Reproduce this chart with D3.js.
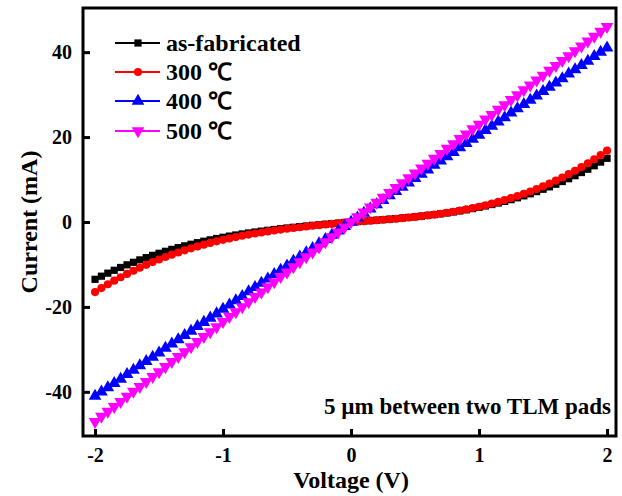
<!DOCTYPE html>
<html>
<head>
<meta charset="utf-8">
<script src="https://cdn.jsdelivr.net/npm/d3@7/dist/d3.min.js"></script>
<style>
  body { margin: 0; background: #fff; }
  svg { display: block; }
  text { font-family: "Liberation Serif", "Times New Roman", serif; font-weight: bold; fill: #000; }
</style>
</head>
<body>
<svg id="chart"></svg>
<script>
// voltage points, -2 .. 2 V in 0.05 V steps
var voltage = d3.range(81).map(function(i){ return Math.round((-2 + i * 0.05) * 100) / 100; });

// current (mA)
var asFabricated = [
  -13.50, -12.76, -12.05, -11.37, -10.71, -10.09, -9.49, -8.92, -8.38, -7.86,
  -7.37, -6.90, -6.45, -6.03, -5.62, -5.24, -4.87, -4.53, -4.20, -3.89,
  -3.60, -3.32, -3.06, -2.81, -2.58, -2.36, -2.15, -1.95, -1.76, -1.58,
  -1.41, -1.24, -1.09, -0.94, -0.79, -0.65, -0.52, -0.39, -0.26, -0.13,
  0,
  0.11, 0.21, 0.32, 0.43, 0.55, 0.67, 0.79, 0.93, 1.07, 1.22,
  1.38, 1.55, 1.74, 1.93, 2.14, 2.37, 2.61, 2.87, 3.15, 3.45,
  3.77, 4.11, 4.47, 4.85, 5.26, 5.70, 6.16, 6.64, 7.16, 7.71,
  8.28, 8.89, 9.53, 10.20, 10.91, 11.65, 12.43, 13.25, 14.11, 15.00
];
var c300 = [
  -16.50, -15.57, -14.67, -13.82, -13.00, -12.22, -11.48, -10.77, -10.09, -9.44,
  -8.83, -8.25, -7.69, -7.17, -6.67, -6.20, -5.75, -5.33, -4.93, -4.56,
  -4.20, -3.86, -3.55, -3.25, -2.97, -2.71, -2.46, -2.22, -2.00, -1.79,
  -1.59, -1.41, -1.23, -1.06, -0.89, -0.73, -0.58, -0.43, -0.29, -0.14,
  0,
  0.10, 0.20, 0.31, 0.41, 0.53, 0.64, 0.77, 0.90, 1.05, 1.20,
  1.37, 1.55, 1.74, 1.95, 2.18, 2.42, 2.68, 2.97, 3.27, 3.60,
  3.95, 4.33, 4.73, 5.16, 5.63, 6.12, 6.64, 7.19, 7.78, 8.40,
  9.06, 9.75, 10.49, 11.26, 12.08, 12.93, 13.83, 14.77, 15.76, 16.80
];
var c400 = [
  -41.0, -40.0, -39.0, -38.0, -37.0, -35.9, -34.9, -33.8, -32.8, -31.8,
  -30.8, -29.7, -28.7, -27.7, -26.7, -25.7, -24.6, -23.6, -22.6, -21.6,
  -20.5, -19.5, -18.5, -17.5, -16.4, -15.4, -14.4, -13.4, -12.3, -11.3,
  -10.3, -9.2, -8.2, -7.2, -6.2, -5.1, -4.1, -3.1, -2.1, -1.0,
  0,
  1.0, 2.1, 3.1, 4.1, 5.1, 6.2, 7.2, 8.2, 9.2, 10.3,
  11.3, 12.3, 13.4, 14.4, 15.4, 16.4, 17.5, 18.5, 19.5, 20.5,
  21.6, 22.6, 23.6, 24.6, 25.7, 26.7, 27.7, 28.7, 29.7, 30.8,
  31.8, 32.8, 33.8, 34.9, 35.9, 36.9, 37.9, 39.0, 40.0, 41.0
];
var c500 = [
  -47.0, -45.8, -44.6, -43.5, -42.3, -41.1, -39.9, -38.8, -37.6, -36.4,
  -35.3, -34.1, -32.9, -31.7, -30.6, -29.4, -28.2, -27.0, -25.9, -24.7,
  -23.5, -22.3, -21.2, -20.0, -18.8, -17.6, -16.5, -15.3, -14.1, -12.9,
  -11.8, -10.6, -9.4, -8.2, -7.1, -5.9, -4.7, -3.5, -2.4, -1.2,
  0,
  1.2, 2.3, 3.5, 4.6, 5.8, 6.9, 8.1, 9.2, 10.4, 11.5,
  12.7, 13.8, 15.0, 16.1, 17.3, 18.4, 19.6, 20.7, 21.9, 23.0,
  24.2, 25.3, 26.5, 27.6, 28.8, 29.9, 31.1, 32.2, 33.4, 34.5,
  35.7, 36.8, 38.0, 39.1, 40.3, 41.4, 42.6, 43.7, 44.9, 46.0
];

var seriesNames = ["as-fabricated", "300 \u2103", "400 \u2103", "500 \u2103"];
var seriesValues = [asFabricated, c300, c400, c500];
var seriesColors = ["#000000", "#ff0000", "#0000ff", "#ff00ff"];
var seriesSymbols = [d3.symbolSquare, d3.symbolCircle, d3.symbolTriangle, d3.symbolTriangle];
var xTicks = [-2, -1, 0, 1, 2];
var yTicks = [-40, -20, 0, 20, 40];
var note = "5 \u00b5m between two TLM pads";

var screen = { width: 622, height: 496 };
var margins = { top: 8, bottom: 60, left: 83, right: 6 };
var width = screen.width - margins.left - margins.right;
var height = screen.height - margins.top - margins.bottom;

var svg = d3.select('#chart')
  .attr('width', screen.width)
  .attr('height', screen.height);

var xScale = d3.scaleLinear().domain([-2.094, 2.07]).range([0, width]);
var yScale = d3.scaleLinear().domain([-50.4, 50.4]).range([height, 0]);

var plot = svg.append('g')
  .attr('transform', 'translate(' + margins.left + ',' + margins.top + ')');

// data
var line = d3.line()
  .x(function(d, i){ return xScale(voltage[i]); })
  .y(function(d){ return yScale(d); });

var symSizes = [52, 52, 70, 70];

seriesValues.forEach(function(vals, s) {
  var g = plot.append('g');
  g.append('path')
    .datum(vals)
    .attr('d', line)
    .attr('fill', 'none')
    .attr('stroke', seriesColors[s])
    .attr('stroke-width', 2);
  g.selectAll('path.pt')
    .data(vals)
    .enter().append('path')
    .attr('class', 'pt')
    .attr('d', d3.symbol().type(seriesSymbols[s]).size(symSizes[s]))
    .attr('transform', function(d, i) {
      return 'translate(' + xScale(voltage[i]) + ',' + yScale(d) + ')' + (s == 3 ? ' rotate(180)' : '');
    })
    .attr('fill', seriesColors[s]);
});

// axes
var xAxis = d3.axisBottom(xScale).tickValues(xTicks).tickSize(-7).tickPadding(12)
  .tickFormat(function(d){ return d3.format('d')(d).replace('\u2212', '-'); });
var gx = plot.append('g')
  .attr('transform', 'translate(0,' + height + ')')
  .call(xAxis);
var yAxis = d3.axisLeft(yScale).tickValues(yTicks).tickSize(-7).tickPadding(11)
  .tickFormat(function(d){ return d3.format('d')(d).replace('\u2212', '-'); });
var gy = plot.append('g').call(yAxis);

[gx, gy].forEach(function(g) {
  g.select('.domain').remove();
  g.selectAll('.tick line').attr('stroke', '#000').attr('stroke-width', 3);
  g.selectAll('.tick text').style('font-size', '20px').attr('fill', '#000');
});

// frame
plot.append('rect')
  .attr('x', 0).attr('y', 0)
  .attr('width', width).attr('height', height)
  .attr('fill', 'none')
  .attr('stroke', '#000')
  .attr('stroke-width', 3);

// axis titles
svg.append('text')
  .attr('x', margins.left + xScale(0))
  .attr('y', 488)
  .attr('text-anchor', 'middle')
  .style('font-size', '24px')
  .text('Voltage (V)');
svg.append('text')
  .attr('transform', 'translate(37,' + (margins.top + yScale(0)) + ') rotate(-90)')
  .attr('text-anchor', 'middle')
  .style('font-size', '24px')
  .text('Current (mA)');

// legend
var legendY = [43, 72, 101, 131];
var legend = svg.append('g');
seriesNames.forEach(function(name, s) {
  var y = legendY[s];
  legend.append('line')
    .attr('x1', 115).attr('x2', 160)
    .attr('y1', y).attr('y2', y)
    .attr('stroke', seriesColors[s]).attr('stroke-width', 2);
  legend.append('path')
    .attr('d', d3.symbol().type(seriesSymbols[s]).size(symSizes[s]))
    .attr('transform', 'translate(138,' + y + ')' + (s == 3 ? ' rotate(180)' : ''))
    .attr('fill', seriesColors[s]);
  legend.append('text')
    .attr('x', 166).attr('y', y + 8)
    .style('font-size', '24px')
    .text(name);
});

// note
svg.append('text')
  .attr('x', 611).attr('y', 414)
  .attr('text-anchor', 'end')
  .style('font-size', '23px')
  .text(note);
</script>
</body>
</html>
